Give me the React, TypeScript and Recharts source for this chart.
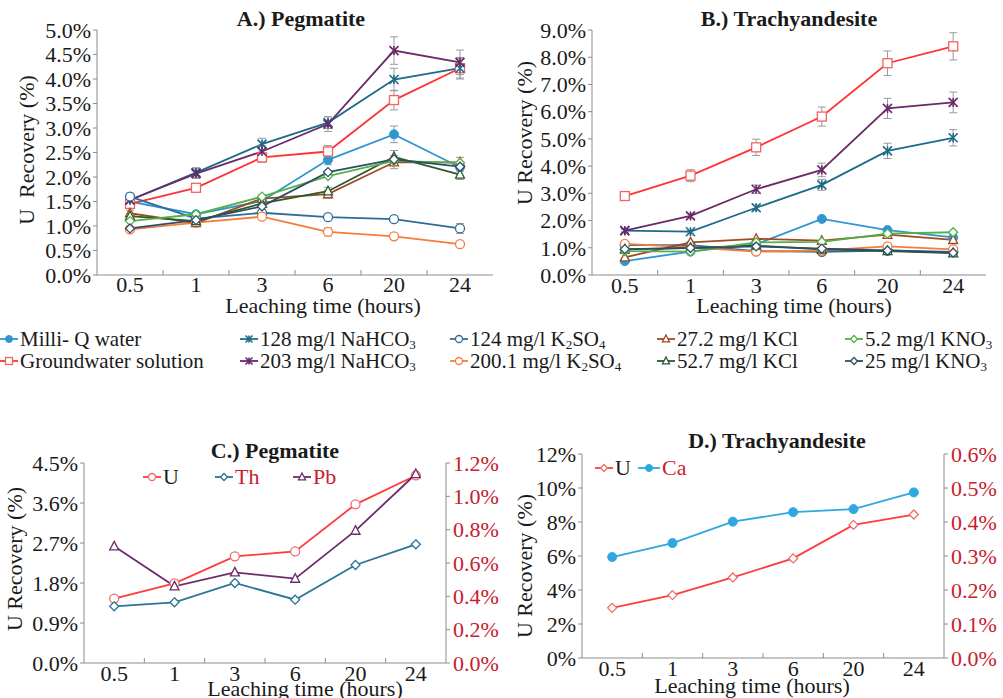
import React from 'react'
import { ComposedChart, Line, XAxis, YAxis, ErrorBar } from 'recharts'

const hours = ['0.5', '1', '3', '6', '20', '24']

// A.) Pegmatite - U recovery (%)
const aMilliQ = [1.5, 1.24, 1.51, 2.35, 2.87, 2.2]
const aGround = [1.45, 1.78, 2.4, 2.52, 3.57, 4.22]
const aNa128 = [1.53, 2.09, 2.67, 3.11, 3.99, 4.22]
const aNa203 = [1.53, 2.07, 2.52, 3.08, 4.58, 4.34]
const aK124 = [1.6, 1.15, 1.27, 1.18, 1.14, 0.95]
const aK200 = [0.93, 1.07, 1.19, 0.88, 0.79, 0.63]
const aKcl27 = [1.26, 1.06, 1.56, 1.65, 2.3, 2.3]
const aKcl52 = [1.2, 1.1, 1.46, 1.71, 2.41, 2.05]
const aNo5 = [1.1, 1.24, 1.6, 2.02, 2.33, 2.29]
const aNo25 = [0.95, 1.12, 1.4, 2.1, 2.36, 2.21]
// error bars (+/-)
const aErrMilliQ = [0.05, 0.05, 0.08, 0.1, 0.17, 0.08]
const aErrGround = [0.05, 0.08, 0.1, 0.12, 0.2, 0.22]
const aErrNa128 = [0.05, 0.1, 0.12, 0.12, 0.23, 0.2]
const aErrNa203 = [0.05, 0.1, 0.12, 0.15, 0.28, 0.25]
const aErrK124 = [0.07, 0.05, 0.05, 0.05, 0.05, 0.1]
const aErrK200 = [0.06, 0.04, 0.04, 0.08, 0.06, 0.04]
const aErrKcl27 = [0.06, 0.05, 0.08, 0.08, 0.13, 0.1]
const aErrKcl52 = [0.05, 0.05, 0.07, 0.08, 0.13, 0.1]

// B.) Trachyandesite - U recovery (%)
const bMilliQ = [0.51, 0.86, 1.13, 2.06, 1.65, 1.38]
const bGround = [2.9, 3.65, 4.69, 5.82, 7.78, 8.4]
const bNa128 = [1.63, 1.59, 2.47, 3.31, 4.56, 5.04]
const bNa203 = [1.63, 2.17, 3.15, 3.86, 6.12, 6.34]
const bK124 = [1.1, 1.1, 0.88, 0.85, 0.9, 0.85]
const bK200 = [1.14, 1.02, 0.86, 0.9, 1.05, 0.94]
const bKcl27 = [0.65, 1.2, 1.33, 1.26, 1.48, 1.29]
const bKcl52 = [0.94, 1.0, 1.08, 0.94, 0.88, 0.8]
const bNo5 = [0.88, 0.86, 1.2, 1.22, 1.52, 1.57]
const bNo25 = [0.95, 0.99, 1.05, 0.97, 0.9, 0.82]
const bErrGround = [0.15, 0.22, 0.3, 0.35, 0.45, 0.5]
const bErrNa128 = [0.05, 0.05, 0.1, 0.2, 0.28, 0.3]
const bErrNa203 = [0.06, 0.08, 0.15, 0.25, 0.37, 0.38]

// C.) Pegmatite - U (left), Th / Pb (right)
const cU = [1.45, 1.79, 2.4, 2.51, 3.57, 4.22]
const cTh = [0.34, 0.364, 0.48, 0.38, 0.588, 0.712]
const cPb = [0.7, 0.46, 0.544, 0.506, 0.794, 1.134]

// D.) Trachyandesite - U (left), Ca (right)
const dU = [2.95, 3.7, 4.74, 5.86, 7.83, 8.44]
const dCa = [0.297, 0.338, 0.401, 0.429, 0.438, 0.487]

// tick labels
const abTicksA = [0, 0.5, 1, 1.5, 2, 2.5, 3, 3.5, 4, 4.5, 5]
const abTicksB = [0, 1, 2, 3, 4, 5, 6, 7, 8, 9]
const cTicksLeft = [0, 0.9, 1.8, 2.7, 3.6, 4.5]
const cTicksRight = [0, 0.2, 0.4, 0.6, 0.8, 1.0, 1.2]
const dTicksLeft = [0, 2, 4, 6, 8, 10, 12]
const dTicksRight = [0, 0.1, 0.2, 0.3, 0.4, 0.5, 0.6]

const AXIS = '#8c8c8c'
const INK = '#1a1a1a'
const RED_TXT = '#c8202d'
const FS = 22

type Marker = 'dot' | 'circle' | 'square' | 'star' | 'triangle' | 'diamond'

interface SeriesDef {
  key: string
  name?: React.ReactNode
  color: string
  marker: Marker
  markerColor?: string
  axis?: string
}

const Sub = ({ children }: { children: React.ReactNode }) => (
  <span style={{ fontSize: '0.62em', position: 'relative', top: '0.25em', lineHeight: 0 }}>{children}</span>
)

const mainSeries: SeriesDef[] = [
  { key: 'milliQ', name: 'Milli- Q water', color: '#2f97d0', marker: 'dot' },
  { key: 'ground', name: 'Groundwater solution', color: '#ff3333', marker: 'square', markerColor: '#f26464' },
  { key: 'na128', name: <>128 mg/l NaHCO<Sub>3</Sub></>, color: '#1d6a8a', marker: 'star' },
  { key: 'na203', name: <>203 mg/l NaHCO<Sub>3</Sub></>, color: '#6a2969', marker: 'star' },
  { key: 'k124', name: <>124 mg/l K<Sub>2</Sub>SO<Sub>4</Sub></>, color: '#2e6c99', marker: 'circle' },
  { key: 'k200', name: <>200.1 mg/l K<Sub>2</Sub>SO<Sub>4</Sub></>, color: '#f47d3c', marker: 'circle' },
  { key: 'kcl27', name: '27.2 mg/l KCl', color: '#a04a24', marker: 'triangle' },
  { key: 'kcl52', name: '52.7 mg/l KCl', color: '#2a5a2a', marker: 'triangle' },
  { key: 'no5', name: <>5.2 mg/l KNO<Sub>3</Sub></>, color: '#55b048', marker: 'diamond' },
  { key: 'no25', name: <>25 mg/l KNO<Sub>3</Sub></>, color: '#2d4e66', marker: 'diamond' },
]

const cSeries: SeriesDef[] = [
  { key: 'u', color: '#ff3b3b', marker: 'circle', markerColor: '#f06a6a' },
  { key: 'th', color: '#2d7395', marker: 'diamond', axis: 'right' },
  { key: 'pb', color: '#6b2c6b', marker: 'triangle', axis: 'right' },
]

const dSeries: SeriesDef[] = [
  { key: 'u', color: '#ff3b3b', marker: 'diamond', markerColor: '#f06a6a' },
  { key: 'ca', color: '#2ea8e0', marker: 'dot', axis: 'right' },
]

function rowsFrom(cols: Record<string, number[]>) {
  return hours.map((_, i) => {
    const r: Record<string, number> = { t: i + 0.5 }
    Object.keys(cols).forEach((k) => (r[k] = cols[k][i]))
    return r
  })
}

const aRows = rowsFrom({
  milliQ: aMilliQ, ground: aGround, na128: aNa128, na203: aNa203, k124: aK124,
  k200: aK200, kcl27: aKcl27, kcl52: aKcl52, no5: aNo5, no25: aNo25,
  milliQErr: aErrMilliQ, groundErr: aErrGround, na128Err: aErrNa128, na203Err: aErrNa203,
  k124Err: aErrK124, k200Err: aErrK200, kcl27Err: aErrKcl27, kcl52Err: aErrKcl52,
})
const bRows = rowsFrom({
  milliQ: bMilliQ, ground: bGround, na128: bNa128, na203: bNa203, k124: bK124,
  k200: bK200, kcl27: bKcl27, kcl52: bKcl52, no5: bNo5, no25: bNo25,
  groundErr: bErrGround, na128Err: bErrNa128, na203Err: bErrNa203,
})
const cRows = rowsFrom({ u: cU, th: cTh, pb: cPb })
const dRows = rowsFrom({ u: dU, ca: dCa })

// band edges at integers, labels at the band centres
const xTicks = hours.flatMap((_, i) => [i, i + 0.5]).concat(hours.length)

function MarkerShape({ shape, x, y, color, s = 4.5 }: { shape: Marker; x: number; y: number; color: string; s?: number }) {
  switch (shape) {
    case 'dot':
      return <circle cx={x} cy={y} r={s} fill={color} stroke={color} />
    case 'circle':
      return <circle cx={x} cy={y} r={s} fill="#fff" stroke={color} strokeWidth={1.3} />
    case 'square':
      return <rect x={x - s} y={y - s} width={s * 2} height={s * 2} fill="#fff" stroke={color} strokeWidth={1.3} />
    case 'star':
      return (
        <g stroke={color} strokeWidth={1.6}>
          <line x1={x - s} y1={y - s} x2={x + s} y2={y + s} />
          <line x1={x - s} y1={y + s} x2={x + s} y2={y - s} />
          <line x1={x} y1={y - s} x2={x} y2={y + s} />
        </g>
      )
    case 'triangle':
      return (
        <polygon
          points={`${x},${y - s - 0.5} ${x + s},${y + s * 0.8} ${x - s},${y + s * 0.8}`}
          fill="#fff"
          stroke={color}
          strokeWidth={1.3}
        />
      )
    case 'diamond':
      return (
        <polygon points={`${x},${y - s} ${x + s},${y} ${x},${y + s} ${x - s},${y}`} fill="#fff" stroke={color} strokeWidth={1.3} />
      )
  }
}

const dotFn = (s: SeriesDef) => (p: any) =>
  p.cx == null ? (
    <g key={`e-${p.index}`} />
  ) : (
    <g key={`m-${p.index}`}>
      <MarkerShape shape={s.marker} x={p.cx} y={p.cy} color={s.markerColor ?? s.color} />
    </g>
  )

const makeXTick = (offset: number) => (p: any) => {
  const v = p.payload.value as number
  if (Number.isInteger(v)) {
    if (v === 0 || v === hours.length) return <g />
    return <line x1={p.x} x2={p.x} y1={p.y} y2={p.y - 5} stroke={AXIS} />
  }
  return (
    <text x={p.x} y={p.y + offset} textAnchor="middle" fontSize={FS} fill={INK}>
      {hours[Math.floor(v)]}
    </text>
  )
}

interface PanelProps {
  left: number
  top: number
  width: number
  height: number
  mt: number
  mr: number
  xHeight: number
  yWidth: number
  rightWidth: number
  labelOffset: number
  rows: Record<string, number>[]
  series: SeriesDef[]
  yDomain: [number, number]
  yTicks: number[]
  yFmt: (v: number) => string
  right?: { domain: [number, number]; ticks: number[]; fmt: (v: number) => string }
}

function Panel(p: PanelProps) {
  return (
    <div style={{ position: 'absolute', left: p.left, top: p.top }}>
      <ComposedChart width={p.width} height={p.height} data={p.rows} margin={{ top: p.mt, right: p.mr, bottom: 0, left: 0 }}>
        <XAxis
          dataKey="t"
          type="number"
          domain={[0, hours.length]}
          ticks={xTicks}
          interval={0}
          tickSize={0}
          tickMargin={0}
          tickLine={false}
          tick={makeXTick(p.labelOffset)}
          axisLine={{ stroke: AXIS }}
          height={p.xHeight}
        />
        <XAxis
          xAxisId="top"
          orientation="top"
          type="number"
          domain={[0, hours.length]}
          height={0}
          tick={false}
          tickLine={false}
          axisLine={{ stroke: AXIS }}
        />
        <YAxis
          type="number"
          domain={p.yDomain}
          ticks={p.yTicks}
          interval={0}
          tickFormatter={p.yFmt}
          width={p.yWidth}
          tickSize={4}
          tickMargin={2}
          tick={{ fill: INK, fontSize: FS }}
          tickLine={{ stroke: AXIS }}
          axisLine={{ stroke: AXIS }}
        />
        {p.right ? (
          <YAxis
            yAxisId="right"
            orientation="right"
            type="number"
            domain={p.right.domain}
            ticks={p.right.ticks}
            interval={0}
            tickFormatter={p.right.fmt}
            width={p.rightWidth}
            tickSize={4}
            tickMargin={3}
            tick={{ fill: RED_TXT, fontSize: FS, textAnchor: 'start' }}
            tickLine={{ stroke: AXIS }}
            axisLine={{ stroke: AXIS }}
          />
        ) : (
          <YAxis
            yAxisId="right"
            orientation="right"
            type="number"
            domain={[0, 1]}
            width={p.rightWidth}
            tick={false}
            tickLine={false}
            axisLine={{ stroke: AXIS }}
          />
        )}
        {p.series.map((s) => (
          <Line
            key={s.key}
            dataKey={s.key}
            yAxisId={s.axis ?? 0}
            stroke={s.color}
            strokeWidth={1.8}
            dot={dotFn(s)}
            activeDot={false}
            isAnimationActive={false}
          >
            {p.rows[0][`${s.key}Err`] !== undefined && (
              <ErrorBar dataKey={`${s.key}Err`} direction="y" width={4} stroke="#9a9a9a" strokeWidth={1} isAnimationActive={false} />
            )}
          </Line>
        ))}
      </ComposedChart>
    </div>
  )
}

function Txt({
  x, y, children, size = FS, bold = false, color = INK, rotate = false,
}: { x: number; y: number; children: React.ReactNode; size?: number; bold?: boolean; color?: string; rotate?: boolean }) {
  return (
    <div
      style={{
        position: 'absolute',
        left: x,
        top: y,
        fontSize: size,
        fontWeight: bold ? 700 : 400,
        color,
        lineHeight: 1,
        whiteSpace: 'nowrap',
        transform: `translate(-50%, -50%)${rotate ? ' rotate(-90deg)' : ''}`,
      }}
    >
      {children}
    </div>
  )
}

function Icon({ s, w = 18 }: { s: SeriesDef; w?: number }) {
  return (
    <svg width={w} height={14} style={{ display: 'block' }}>
      <line x1={0} x2={w} y1={7} y2={7} stroke={s.color} strokeWidth={1.8} />
      <MarkerShape shape={s.marker} x={w / 2} y={7} color={s.markerColor ?? s.color} s={3.5} />
    </svg>
  )
}

function LegendItem({
  x, y, s, label, color = INK, w = 18, size = 21,
}: { x: number; y: number; s: SeriesDef; label: React.ReactNode; color?: string; w?: number; size?: number }) {
  return (
    <div
      style={{
        position: 'absolute',
        left: x,
        top: y,
        height: size,
        marginTop: -size / 2,
        display: 'flex',
        alignItems: 'center',
        gap: 2,
        whiteSpace: 'nowrap',
        fontSize: size,
        lineHeight: 1,
        color,
      }}
    >
      <Icon s={s} w={w} />
      <span>{label}</span>
    </div>
  )
}

const legendCols = [0, 240, 450, 657, 845]
const legendRows = [339, 361]

export default function App() {
  const pct1 = (v: number) => `${v.toFixed(1)}%`
  return (
    <div
      style={{
        position: 'absolute',
        left: 0,
        top: 0,
        width: 1003,
        height: 698,
        overflow: 'hidden',
        background: '#fff',
        fontFamily: '"Liberation Serif", serif',
        color: INK,
      }}
    >
      <Panel
        left={0} top={0} width={500} height={320} mt={30} mr={7} xHeight={45} yWidth={97} rightWidth={0}
        labelOffset={17} rows={aRows} series={mainSeries} yDomain={[0, 5]} yTicks={abTicksA} yFmt={pct1}
      />
      <Panel
        left={500} top={0} width={503} height={320} mt={30} mr={17} xHeight={45} yWidth={92} rightWidth={0}
        labelOffset={18} rows={bRows} series={mainSeries} yDomain={[0, 9]} yTicks={abTicksB} yFmt={pct1}
      />
      <Panel
        left={0} top={430} width={503} height={268} mt={33} mr={0} xHeight={35} yWidth={84} rightWidth={57}
        labelOffset={18} rows={cRows} series={cSeries} yDomain={[0, 4.5]} yTicks={cTicksLeft} yFmt={pct1}
        right={{ domain: [0, 1.2], ticks: cTicksRight, fmt: pct1 }}
      />
      <Panel
        left={500} top={430} width={503} height={268} mt={24} mr={0} xHeight={40} yWidth={82} rightWidth={59}
        labelOffset={18} rows={dRows} series={dSeries} yDomain={[0, 12]} yTicks={dTicksLeft} yFmt={(v) => `${v}%`}
        right={{ domain: [0, 0.6], ticks: dTicksRight, fmt: pct1 }}
      />

      {/* titles */}
      <Txt x={301} y={19} bold>A.) Pegmatite</Txt>
      <Txt x={789} y={19} bold>B.) Trachyandesite</Txt>
      <Txt x={275} y={451} bold>C.) Pegmatite</Txt>
      <Txt x={777} y={441} bold>D.) Trachyandesite</Txt>

      {/* axis titles */}
      <Txt x={27} y={150} rotate>U{'\u00a0'} Recovery (%)</Txt>
      <Txt x={525} y={133} rotate>U Recovery (%)</Txt>
      <Txt x={15} y={559} rotate>U Recovery (%)</Txt>
      <Txt x={525} y={566} rotate>U Recovery (%)</Txt>
      <Txt x={323} y={306}>Leaching time (hours)</Txt>
      <Txt x={794} y={306}>Leaching time (hours)</Txt>
      <Txt x={305} y={689}>Leaching time (hours)</Txt>
      <Txt x={752} y={686}>Leaching time (hours)</Txt>

      {/* shared legend for A and B */}
      {mainSeries.map((s, i) => (
        <LegendItem key={s.key} x={legendCols[Math.floor(i / 2)]} y={legendRows[i % 2]} s={s} label={s.name} />
      ))}

      {/* in-plot legends */}
      <LegendItem x={143} y={477} s={cSeries[0]} label="U" size={22} />
      <LegendItem x={215} y={477} s={cSeries[1]} label="Th" color={RED_TXT} size={22} />
      <LegendItem x={293} y={477} s={cSeries[2]} label="Pb" color={RED_TXT} size={22} />
      <LegendItem x={595} y={468} s={dSeries[0]} label="U" size={22} />
      <LegendItem x={638} y={468} s={dSeries[1]} label="Ca" color={RED_TXT} w={22} size={22} />
    </div>
  )
}
